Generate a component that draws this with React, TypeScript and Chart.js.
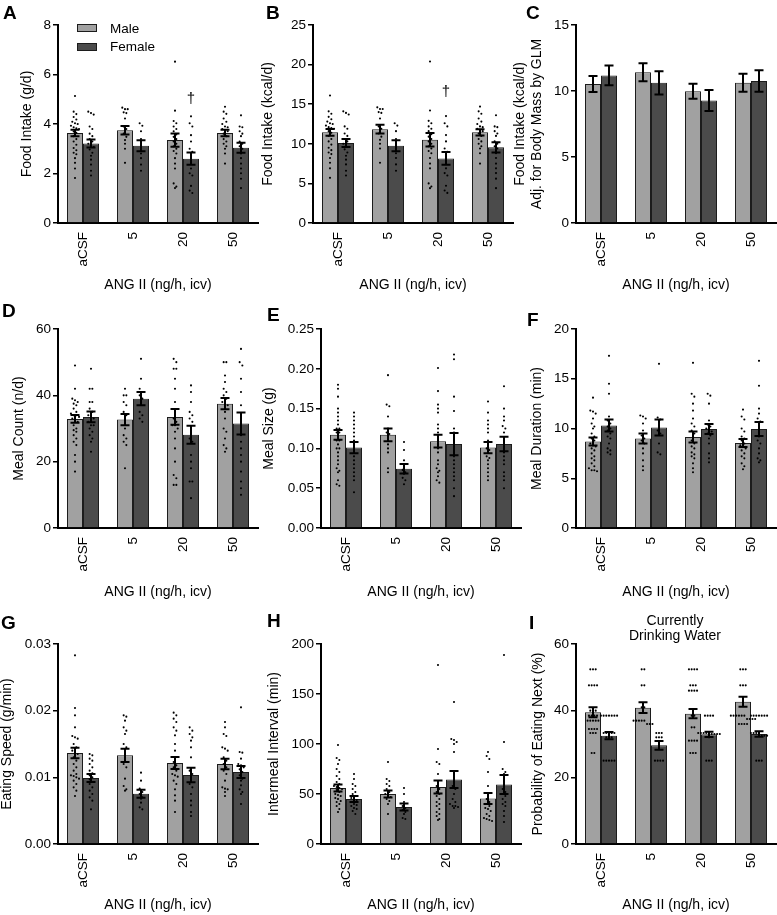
import React, { useEffect, useRef } from "react";
import { Chart, registerables } from "chart.js";

Chart.register(...registerables);

const FONT = "'Liberation Sans', Arial, Helvetica, sans-serif";
Chart.defaults.font.family = FONT;
Chart.defaults.color = "#000";

// ---------- shared ----------
const CATS = ["aCSF", "5", "20", "50"];
const SERIES = ["Male", "Female"];
const X_TITLE = "ANG II (ng/h, icv)";
const MALE_COLOR = "#a1a1a1";
const FEMALE_COLOR = "#4b4b4b";
const BAR_EDGE = "#1c1c1c";

// ---------- A: Food intake (g/d) ----------
const A_TICKS = [0, 2, 4, 6, 8];
const A_TICK_LABELS = ["0", "2", "4", "6", "8"];
const A_MALE = [3.64, 3.75, 3.35, 3.64];
const A_FEMALE = [3.21, 3.12, 2.6, 3.04];
const A_MALE_SEM = [0.13, 0.17, 0.27, 0.13];
const A_FEMALE_SEM = [0.16, 0.22, 0.25, 0.2];
const A_MALE_PTS = [
  [5.13, 4.5, 4.4, 4.28, 4.18, 4.09, 4.03, 4.0, 3.93, 3.87, 3.83, 3.8, 3.7, 3.64, 3.51, 3.39, 3.29, 3.16, 3.03, 2.94, 2.84, 2.78, 2.62, 2.43, 2.2, 1.82],
  [4.66, 4.6, 4.6, 4.47, 4.44, 4.22, 3.9, 3.8, 3.61, 3.48, 3.35, 3.2, 3.0, 2.43],
  [6.52, 4.54, 4.12, 4.03, 3.9, 3.8, 3.71, 3.58, 3.48, 3.39, 3.29, 3.2, 3.1, 3.0, 2.91, 2.81, 2.62, 2.4, 2.2, 1.6, 1.47, 1.41],
  [4.7, 4.5, 4.41, 4.22, 4.09, 4.0, 3.9, 3.87, 3.8, 3.74, 3.71, 3.61, 3.51, 3.39, 3.29, 3.2, 3.1, 3.0, 2.81, 2.4],
];
const A_FEMALE_PTS = [
  [4.5, 4.44, 4.38, 3.9, 3.8, 3.61, 3.51, 3.39, 3.29, 3.2, 3.16, 3.07, 2.97, 2.84, 2.72, 2.56, 2.36, 2.11, 1.92],
  [4.03, 3.93, 3.71, 3.39, 3.2, 3.0, 2.81, 2.62, 2.36, 2.11],
  [4.31, 4.03, 3.9, 3.55, 3.29, 3.0, 2.88, 2.72, 2.49, 2.2, 2.01, 1.92, 1.5, 1.31, 1.21],
  [4.35, 3.9, 3.87, 3.71, 3.61, 3.51, 3.29, 3.2, 3.1, 3.0, 2.81, 2.62, 2.4, 2.2, 2.01, 1.79, 1.41],
];
const A_DAGGER = { cat: 2, value: 5.0 };

// ---------- B: Food intake (kcal/d) ----------
const B_TICKS = [0, 5, 10, 15, 20, 25];
const B_TICK_LABELS = ["0", "5", "10", "15", "20", "25"];
const B_MALE = [11.45, 11.85, 10.5, 11.45];
const B_FEMALE = [10.1, 9.75, 8.15, 9.55];
const B_MALE_SEM = [0.42, 0.55, 0.85, 0.4];
const B_FEMALE_SEM = [0.5, 0.7, 0.8, 0.65];
const B_MALE_PTS = [
  [16.1, 14.1, 13.8, 13.4, 13.1, 12.8, 12.6, 12.5, 12.3, 12.1, 12.0, 11.9, 11.6, 11.4, 11.0, 10.6, 10.3, 9.9, 9.5, 9.2, 8.9, 8.7, 8.2, 7.6, 6.9, 5.7],
  [14.6, 14.4, 14.4, 14.0, 13.9, 13.2, 12.2, 11.9, 11.3, 10.9, 10.5, 10.0, 9.4, 7.6],
  [20.4, 14.2, 12.9, 12.6, 12.2, 11.9, 11.6, 11.2, 10.9, 10.6, 10.3, 10.0, 9.7, 9.4, 9.1, 8.8, 8.2, 7.5, 6.9, 5.0, 4.6, 4.4],
  [14.7, 14.1, 13.8, 13.2, 12.8, 12.5, 12.2, 12.1, 11.9, 11.7, 11.6, 11.3, 11.0, 10.6, 10.3, 10.0, 9.7, 9.4, 8.8, 7.5],
];
const B_FEMALE_PTS = [
  [14.1, 13.9, 13.7, 12.2, 11.9, 11.3, 11.0, 10.6, 10.3, 10.0, 9.9, 9.6, 9.3, 8.9, 8.5, 8.0, 7.4, 6.6, 6.0],
  [12.6, 12.3, 11.6, 10.6, 10.0, 9.4, 8.8, 8.2, 7.4, 6.6],
  [13.5, 12.6, 12.2, 11.1, 10.3, 9.4, 9.0, 8.5, 7.8, 6.9, 6.3, 6.0, 4.7, 4.1, 3.8],
  [13.6, 12.2, 12.1, 11.6, 11.3, 11.0, 10.3, 10.0, 9.7, 9.4, 8.8, 8.2, 7.5, 6.9, 6.3, 5.6, 4.4],
];
const B_DAGGER = { cat: 2, value: 16.5 };

// ---------- C: Adjusted food intake ----------
const C_TICKS = [0, 5, 10, 15];
const C_TICK_LABELS = ["0", "5", "10", "15"];
const C_MALE = [10.53, 11.42, 9.98, 10.62];
const C_FEMALE = [11.18, 10.62, 9.28, 10.76];
const C_MALE_SEM = [0.6, 0.68, 0.57, 0.68];
const C_FEMALE_SEM = [0.75, 0.88, 0.8, 0.82];

// ---------- D: Meal count ----------
const D_TICKS = [0, 20, 40, 60];
const D_TICK_LABELS = ["0", "20", "40", "60"];
const D_MALE = [32.9, 32.7, 33.5, 37.5];
const D_FEMALE = [33.5, 39.0, 28.1, 31.5];
const D_MALE_SEM = [1.2, 1.7, 2.4, 1.7];
const D_FEMALE_SEM = [1.6, 2.0, 2.7, 3.3];
const D_MALE_PTS = [
  [49, 42, 39, 38.5, 38, 37.5, 37, 36, 35, 34.5, 34, 34, 33.5, 33, 32.5, 32, 31, 30, 29.5, 29, 28, 27, 26, 25, 22, 20, 17],
  [42, 40, 40, 38, 37, 35, 34, 33, 30, 28, 27, 26, 25, 18],
  [51, 50, 48, 48, 45, 42, 38, 35, 33, 32, 31, 31, 30, 29, 27, 24, 20, 16, 15, 13, 13],
  [50, 50, 46, 44, 42, 41, 40, 39, 38, 38, 37, 35, 33, 30, 29, 27, 25, 24, 23],
];
const D_FEMALE_PTS = [
  [48, 42, 42, 38, 38, 36, 35, 34, 33, 33, 32, 31, 31, 30, 29, 28, 27, 26, 23],
  [51, 45, 42, 41, 40, 39, 35, 34, 33, 32],
  [43, 41, 38, 35, 34, 33, 32, 30, 27, 26, 22, 20, 18, 14, 14, 9],
  [54, 50, 49, 45, 41, 37, 33, 30, 28, 26, 24, 22, 20, 17, 14, 12, 10],
];

// ---------- E: Meal size ----------
const E_TICKS = [0, 0.05, 0.1, 0.15, 0.2, 0.25];
const E_TICK_LABELS = ["0.00", "0.05", "0.10", "0.15", "0.20", "0.25"];
const E_MALE = [0.117, 0.117, 0.109, 0.101];
const E_FEMALE = [0.101, 0.0745, 0.1055, 0.1055];
const E_MALE_SEM = [0.006, 0.008, 0.008, 0.007];
const E_FEMALE_SEM = [0.007, 0.006, 0.014, 0.009];
const E_MALE_PTS = [
  [0.18, 0.175, 0.165, 0.15, 0.145, 0.14, 0.135, 0.13, 0.125, 0.125, 0.12, 0.12, 0.115, 0.11, 0.11, 0.105, 0.1, 0.1, 0.095, 0.09, 0.085, 0.08, 0.075, 0.072, 0.07, 0.06, 0.055, 0.053],
  [0.192, 0.155, 0.153, 0.14, 0.125, 0.12, 0.118, 0.115, 0.11, 0.105, 0.1, 0.095, 0.075, 0.07],
  [0.201, 0.172, 0.155, 0.15, 0.145, 0.13, 0.125, 0.12, 0.115, 0.11, 0.105, 0.1, 0.095, 0.085, 0.08, 0.075, 0.072, 0.07, 0.065, 0.06, 0.057],
  [0.159, 0.145, 0.135, 0.13, 0.125, 0.12, 0.11, 0.105, 0.1, 0.098, 0.095, 0.09, 0.088, 0.085, 0.08, 0.075, 0.07, 0.065, 0.06],
];
const E_FEMALE_PTS = [
  [0.145, 0.14, 0.135, 0.13, 0.125, 0.12, 0.115, 0.11, 0.105, 0.1, 0.095, 0.09, 0.085, 0.08, 0.075, 0.07, 0.065, 0.06, 0.045],
  [0.108, 0.098, 0.085, 0.078, 0.073, 0.07, 0.068, 0.063, 0.06, 0.055],
  [0.218, 0.212, 0.165, 0.147, 0.125, 0.12, 0.11, 0.1, 0.09, 0.085, 0.08, 0.075, 0.07, 0.065, 0.06, 0.05, 0.04],
  [0.178, 0.15, 0.14, 0.135, 0.128, 0.125, 0.12, 0.11, 0.1, 0.095, 0.09, 0.085, 0.08, 0.07, 0.065, 0.06, 0.05],
];

// ---------- F: Meal duration ----------
const F_TICKS = [0, 5, 10, 15, 20];
const F_TICK_LABELS = ["0", "5", "10", "15", "20"];
const F_MALE = [8.7, 9.0, 9.15, 8.55];
const F_FEMALE = [10.3, 10.1, 9.95, 9.95];
const F_MALE_SEM = [0.4, 0.5, 0.55, 0.4];
const F_FEMALE_SEM = [0.6, 0.8, 0.5, 0.7];
const F_MALE_PTS = [
  [13.1, 11.8, 11.7, 11.5, 11.0, 10.5, 10.2, 10.0, 9.5, 9.2, 9.0, 8.8, 8.5, 8.3, 8.2, 8.0, 7.8, 7.5, 7.2, 7.0, 6.8, 6.5, 6.2, 6.0, 5.8, 5.8, 5.7],
  [11.3, 11.2, 11.0, 10.5, 9.8, 9.3, 9.0, 8.8, 8.5, 8.0, 7.5, 6.8, 6.2, 5.8],
  [16.6, 13.5, 13.2, 12.5, 11.8, 11.0, 10.5, 10.2, 9.8, 9.5, 9.2, 8.8, 8.5, 8.2, 8.0, 7.6, 7.4, 7.2, 7.0, 6.5, 6.0, 5.6],
  [11.9, 11.2, 10.9, 10.0, 9.7, 9.2, 9.0, 8.8, 8.5, 8.3, 8.2, 8.0, 7.8, 7.5, 7.2, 7.0, 6.5, 6.2, 5.9],
];
const F_FEMALE_PTS = [
  [17.3, 14.5, 13.5, 11.2, 10.8, 10.5, 10.2, 10.0, 9.8, 9.5, 9.2, 9.0, 8.5, 8.0, 7.8, 7.6, 7.4],
  [16.5, 11.1, 10.9, 10.6, 10.2, 9.8, 9.5, 8.5, 7.6, 7.4],
  [13.5, 13.3, 12.5, 10.8, 10.4, 10.2, 10.0, 9.8, 9.7, 9.5, 9.3, 9.0, 8.5, 7.5, 7.0, 6.6],
  [16.8, 14.3, 12.0, 11.5, 11.0, 10.7, 10.5, 10.0, 9.6, 9.2, 8.8, 8.5, 8.0, 7.5, 7.0, 6.8, 6.6],
];

// ---------- G: Eating speed ----------
const G_TICKS = [0, 0.01, 0.02, 0.03];
const G_TICK_LABELS = ["0.00", "0.01", "0.02", "0.03"];
const G_MALE = [0.01365, 0.0133, 0.01215, 0.012];
const G_FEMALE = [0.0099, 0.00755, 0.01035, 0.0108];
const G_MALE_SEM = [0.0008, 0.001, 0.0009, 0.0008];
const G_FEMALE_SEM = [0.0006, 0.0006, 0.0011, 0.0009];
const G_MALE_PTS = [
  [0.0283, 0.0204, 0.0193, 0.0175, 0.0162, 0.016, 0.0158, 0.015, 0.0145, 0.014, 0.0138, 0.0135, 0.013, 0.0125, 0.012, 0.0115, 0.011, 0.0105, 0.0103, 0.0102, 0.01, 0.0098, 0.0095, 0.009, 0.0085, 0.008, 0.0072],
  [0.0193, 0.0191, 0.0185, 0.0175, 0.017, 0.0165, 0.015, 0.0145, 0.014, 0.012, 0.0115, 0.0098, 0.0087, 0.0082, 0.008],
  [0.0197, 0.0193, 0.0188, 0.0183, 0.0175, 0.017, 0.0163, 0.015, 0.014, 0.013, 0.0123, 0.0118, 0.0115, 0.011, 0.0105, 0.0103, 0.0101, 0.0095, 0.009, 0.0082, 0.0073, 0.0065, 0.0048],
  [0.0183, 0.0175, 0.0165, 0.0162, 0.0145, 0.0143, 0.014, 0.013, 0.0125, 0.012, 0.0115, 0.011, 0.0105, 0.0095, 0.0085, 0.0083, 0.0082, 0.0078, 0.0072],
];
const G_FEMALE_PTS = [
  [0.0135, 0.0133, 0.0128, 0.0125, 0.012, 0.0115, 0.011, 0.0106, 0.0103, 0.01, 0.0097, 0.0093, 0.009, 0.0085, 0.008, 0.0075, 0.007, 0.0065, 0.0052],
  [0.0107, 0.0095, 0.0083, 0.0078, 0.0075, 0.007, 0.0068, 0.0062, 0.0055, 0.0052],
  [0.0175, 0.017, 0.0165, 0.016, 0.0155, 0.0145, 0.013, 0.011, 0.0105, 0.01, 0.009, 0.0085, 0.0075, 0.0065, 0.0058, 0.0048, 0.0042],
  [0.0205, 0.0138, 0.0137, 0.0128, 0.012, 0.0118, 0.0115, 0.0112, 0.0108, 0.0103, 0.0098, 0.0095, 0.0088, 0.0082, 0.0078, 0.0075, 0.006],
];

// ---------- H: Intermeal interval ----------
const H_TICKS = [0, 50, 100, 150, 200];
const H_TICK_LABELS = ["0", "50", "100", "150", "200"];
const H_MALE = [56, 50, 57, 45.5];
const H_FEMALE = [45, 37, 64.5, 59.5];
const H_MALE_SEM = [3.5, 3.5, 6.5, 5.5];
const H_FEMALE_SEM = [3, 3.5, 8.5, 9.5];
const H_MALE_PTS = [
  [99, 86, 84, 80, 75, 72, 68, 65, 62, 60, 58, 57, 56, 55, 54, 52, 50, 49, 48, 46, 45, 43, 42, 40, 38, 35, 32],
  [82, 65, 63, 60, 58, 55, 52, 50, 48, 47, 45, 43, 40, 30],
  [179, 95, 82, 80, 70, 62, 58, 55, 52, 50, 48, 45, 42, 40, 38, 35, 32, 30, 28, 25, 24],
  [92, 88, 85, 72, 58, 50, 45, 42, 40, 38, 36, 35, 33, 30, 28, 26, 25, 24, 23],
];
const H_FEMALE_PTS = [
  [70, 65, 60, 58, 55, 52, 50, 48, 46, 45, 44, 42, 40, 39, 38, 36, 35, 33, 30],
  [56, 50, 42, 38, 36, 34, 32, 30, 26, 25],
  [142, 105, 104, 102, 100, 92, 72, 58, 55, 50, 45, 42, 40, 38, 38, 37, 36],
  [189, 102, 75, 72, 70, 62, 55, 52, 50, 48, 45, 42, 40, 38, 33, 28, 22],
];

// ---------- I: Probability of eating next ----------
const I_TICKS = [0, 20, 40, 60];
const I_TICK_LABELS = ["0", "20", "40", "60"];
const I_MALE = [39.5, 40.9, 39.1, 42.7];
const I_FEMALE = [32.5, 29.6, 32.9, 33.0];
const I_MALE_SEM = [1.5, 1.6, 1.4, 1.5];
const I_FEMALE_SEM = [1.1, 1.3, 0.8, 0.8];
const I_MALE_PTS = [
  [52.4, 52.4, 52.4, 47.6, 47.6, 47.6, 47.6, 40, 40, 40, 38.5, 38.5, 38.5, 38.5, 37, 37, 37, 37, 37, 34.5, 34.5, 34.5, 34.5, 33.3, 33.3, 33.3, 27.3, 27.3],
  [52.4, 52.4, 47.6, 47.6, 41, 41, 37, 37, 37, 37, 37, 36, 36, 36],
  [52.4, 52.4, 52.4, 52.4, 47.6, 47.6, 47.6, 46, 46, 46, 46, 38.5, 38.5, 35, 35, 31, 31, 31, 31, 27.3, 27.3, 27.3],
  [52.4, 52.4, 52.4, 47.6, 47.6, 47.6, 38.5, 38.5, 38.5, 38.5, 38.5, 38.5, 37.5, 37.5, 37.5, 37.5, 36, 36, 36, 36],
];
const I_FEMALE_PTS = [
  [38.5, 38.5, 38.5, 38.5, 38.5, 38.5, 38.5, 33.3, 33.3, 33.3, 33.3, 33.3, 32, 32, 32, 25, 25, 25, 25, 25],
  [33.3, 33.3, 33.3, 32, 32, 32, 25, 25, 25, 25],
  [38.5, 38.5, 38.5, 38.5, 33.3, 33.3, 33.3, 33.3, 33.3, 33, 33, 33, 33, 32, 25, 25, 25],
  [38.5, 38.5, 38.5, 38.5, 38.5, 38.5, 38.5, 33.3, 33.3, 33.3, 33.3, 32.5, 32.5, 32.5, 25, 25, 25],
];

// ---------- layout ----------
const CAT_PX = 50;
const BAR_HALF = 0.16;
const DOT_STEP = 2.7; // horizontal spacing of dots in a row (px)
const ROW_BAND = 3.6; // vertical band (px) whose dots share a row
const DOT_RADIUS = 1.05;

type Geo = { left: number; top: number; w: number; h: number; axisW: number; padTop: number; xAxisH: number; yTitlePad: number; xTitlePad: number };
type PanelDef = {
  id: string;
  yTitle: string | string[];
  ticks: number[];
  tickLabels: string[];
  male: number[];
  female: number[];
  maleSem: number[];
  femaleSem: number[];
  malePts?: number[][];
  femalePts?: number[][];
  dagger?: { cat: number; value: number };
  geo: Geo;
};

const ROW1 = { top: 0, h: 300, padTop: 25, xAxisH: 77, xTitlePad: 6.6 };
const ROW2 = { top: 300, h: 305, padTop: 29, xAxisH: 77, xTitlePad: 4.6 };
const ROW3 = { top: 610, h: 305, padTop: 34, xAxisH: 71, xTitlePad: 1.6 };
const COL1 = { left: -10, w: 278, axisW: 68 };
const COL2B = { left: 255, w: 268, axisW: 58 };
const COL2 = { left: 255, w: 276, axisW: 66 };
const COL3 = { left: 505, w: 281, axisW: 71 };

const PANELS: PanelDef[] = [
  { id: "A", yTitle: "Food Intake (g/d)", ticks: A_TICKS, tickLabels: A_TICK_LABELS, male: A_MALE, female: A_FEMALE, maleSem: A_MALE_SEM, femaleSem: A_FEMALE_SEM, malePts: A_MALE_PTS, femalePts: A_FEMALE_PTS, dagger: A_DAGGER, geo: { ...ROW1, ...COL1, yTitlePad: 28.6 } },
  { id: "B", yTitle: "Food Intake (kcal/d)", ticks: B_TICKS, tickLabels: B_TICK_LABELS, male: B_MALE, female: B_FEMALE, maleSem: B_MALE_SEM, femaleSem: B_FEMALE_SEM, malePts: B_MALE_PTS, femalePts: B_FEMALE_PTS, dagger: B_DAGGER, geo: { ...ROW1, ...COL2B, yTitlePad: 4.6 } },
  { id: "C", yTitle: ["Food Intake (kcal/d)", "Adj. for Body Mass by GLM"], ticks: C_TICKS, tickLabels: C_TICK_LABELS, male: C_MALE, female: C_FEMALE, maleSem: C_MALE_SEM, femaleSem: C_FEMALE_SEM, geo: { ...ROW1, ...COL3, yTitlePad: 6.6 } },
  { id: "D", yTitle: "Meal Count (n/d)", ticks: D_TICKS, tickLabels: D_TICK_LABELS, male: D_MALE, female: D_FEMALE, maleSem: D_MALE_SEM, femaleSem: D_FEMALE_SEM, malePts: D_MALE_PTS, femalePts: D_FEMALE_PTS, geo: { ...ROW2, ...COL1, yTitlePad: 20.6 } },
  { id: "E", yTitle: "Meal Size (g)", ticks: E_TICKS, tickLabels: E_TICK_LABELS, male: E_MALE, female: E_FEMALE, maleSem: E_MALE_SEM, femaleSem: E_FEMALE_SEM, malePts: E_MALE_PTS, femalePts: E_FEMALE_PTS, geo: { ...ROW2, ...COL2, yTitlePad: 5.6 } },
  { id: "F", yTitle: "Meal Duration (min)", ticks: F_TICKS, tickLabels: F_TICK_LABELS, male: F_MALE, female: F_FEMALE, maleSem: F_MALE_SEM, femaleSem: F_FEMALE_SEM, malePts: F_MALE_PTS, femalePts: F_FEMALE_PTS, geo: { ...ROW2, ...COL3, yTitlePad: 23.6 } },
  { id: "G", yTitle: "Eating Speed (g/min)", ticks: G_TICKS, tickLabels: G_TICK_LABELS, male: G_MALE, female: G_FEMALE, maleSem: G_MALE_SEM, femaleSem: G_FEMALE_SEM, malePts: G_MALE_PTS, femalePts: G_FEMALE_PTS, geo: { ...ROW3, ...COL1, yTitlePad: 8.6 } },
  { id: "H", yTitle: "Intermeal Interval (min)", ticks: H_TICKS, tickLabels: H_TICK_LABELS, male: H_MALE, female: H_FEMALE, maleSem: H_MALE_SEM, femaleSem: H_FEMALE_SEM, malePts: H_MALE_PTS, femalePts: H_FEMALE_PTS, geo: { ...ROW3, ...COL2, yTitlePad: 10.6 } },
  { id: "I", yTitle: "Probability of Eating Next (%)", ticks: I_TICKS, tickLabels: I_TICK_LABELS, male: I_MALE, female: I_FEMALE, maleSem: I_MALE_SEM, femaleSem: I_FEMALE_SEM, malePts: I_MALE_PTS, femalePts: I_FEMALE_PTS, geo: { ...ROW3, ...COL3, yTitlePad: 24.6 } },
];

// scatter spread: dots whose pixel heights fall in the same band form a centred row
function spread(values: number[], pxPerUnit: number): number[] {
  const order = values.map((_, i) => i).sort((a, b) => values[b] - values[a]);
  const out = new Array(values.length).fill(0);
  let row: number[] = [];
  let rowStart = Infinity;
  const flush = () => {
    const n = row.length;
    row.forEach((idx, j) => {
      out[idx] = (j - (n - 1) / 2) * DOT_STEP;
    });
    row = [];
  };
  for (const i of order) {
    const y = values[i] * pxPerUnit;
    if (row.length && rowStart - y >= ROW_BAND) flush();
    if (!row.length) rowStart = y;
    row.push(i);
  }
  flush();
  return out;
}

// points in the category scale's own index units (fractional index = position within category)
function buildPoints(groups: number[][], sex: number, yMax: number, plotH: number) {
  const ppu = plotH / yMax;
  const pts: { x: number; y: number }[] = [];
  groups.forEach((g, ci) => {
    const offs = spread(g, ppu);
    g.forEach((v, k) => pts.push({ x: ci + (sex === 0 ? -BAR_HALF : BAR_HALF) + offs[k] / CAT_PX, y: v }));
  });
  pts.sort((a, b) => a.x - b.x);
  return pts;
}

function ChartPanel({ p }: { p: PanelDef }) {
  const ref = useRef<HTMLCanvasElement | null>(null);
  useEffect(() => {
    const canvas = ref.current;
    if (!canvas) return;
    const g = p.geo;
    const yMax = p.ticks[p.ticks.length - 1];
    const plotH = g.h - g.padTop - g.xAxisH;
    const datasets: any[] = [
      { type: "bar", label: SERIES[0], data: p.male, backgroundColor: MALE_COLOR, borderColor: BAR_EDGE, borderWidth: 1, barPercentage: 1, categoryPercentage: 0.64, order: 2 },
      { type: "bar", label: SERIES[1], data: p.female, backgroundColor: FEMALE_COLOR, borderColor: BAR_EDGE, borderWidth: 1, barPercentage: 1, categoryPercentage: 0.64, order: 2 },
    ];
    if (p.malePts && p.femalePts) {
      const common = { type: "scatter", parsing: false, normalized: true, xAxisID: "x", yAxisID: "y", pointRadius: DOT_RADIUS, pointBackgroundColor: "#000", pointBorderWidth: 0, showLine: false, order: 0 };
      datasets.push({ ...common, label: SERIES[0] + " individual", data: buildPoints(p.malePts, 0, yMax, plotH) });
      datasets.push({ ...common, label: SERIES[1] + " individual", data: buildPoints(p.femalePts, 1, yMax, plotH) });
    }
    const sems = [p.maleSem, p.femaleSem];
    const errPlugin = {
      id: "errbars",
      afterDatasetsDraw(chart: any) {
        const ctx = chart.ctx;
        const ys = chart.scales.y;
        ctx.save();
        ctx.strokeStyle = "#000";
        ctx.lineWidth = 2;
        [0, 1].forEach((di) => {
          const meta = chart.getDatasetMeta(di);
          const vals = chart.data.datasets[di].data as number[];
          meta.data.forEach((el: any, i: number) => {
            const m = vals[i];
            const s = sems[di][i];
            const x = el.x;
            const y1 = ys.getPixelForValue(m + s);
            const y2 = ys.getPixelForValue(m - s);
            ctx.beginPath();
            ctx.moveTo(x, y1);
            ctx.lineTo(x, y2);
            ctx.moveTo(x - 4.5, y1);
            ctx.lineTo(x + 4.5, y1);
            ctx.moveTo(x - 4.5, y2);
            ctx.lineTo(x + 4.5, y2);
            ctx.stroke();
          });
        });
        if (p.dagger) {
          const el: any = chart.getDatasetMeta(1).data[p.dagger.cat];
          ctx.fillStyle = "#000";
          ctx.font = `15px ${FONT}`;
          ctx.textAlign = "center";
          ctx.textBaseline = "middle";
          ctx.fillText("\u2020", el.x, ys.getPixelForValue(p.dagger.value));
        }
        ctx.restore();
      },
    };
    const chart = new Chart(canvas, {
      type: "bar",
      data: { labels: CATS, datasets },
      options: {
        responsive: false,
        animation: false,
        devicePixelRatio: 1,
        events: [],
        layout: { padding: { top: g.padTop, right: 10, left: 0, bottom: 0 } },
        plugins: { legend: { display: false }, tooltip: { enabled: false }, title: { display: false } },
        scales: {
          x: {
            type: "category",
            offset: true,
            grid: { display: false, drawTicks: false },
            border: { display: true, color: "#000", width: 2 },
            ticks: { minRotation: 90, maxRotation: 90, autoSkip: false, padding: 9, font: { size: 13.5 }, color: "#000" },
            title: { display: true, text: X_TITLE, font: { size: 14 }, color: "#000", padding: { top: 0, bottom: g.xTitlePad } },
            afterFit: (s: any) => {
              s.height = g.xAxisH;
            },
          },
          y: {
            type: "linear",
            min: 0,
            max: yMax,
            afterBuildTicks: (s: any) => {
              s.ticks = p.ticks.map((v) => ({ value: v }));
            },
            afterFit: (s: any) => {
              s.width = g.axisW;
            },
            ticks: { callback: (_v: any, i: number) => p.tickLabels[i], font: { size: 13.5 }, color: "#000", padding: 2, autoSkip: false },
            grid: { display: true, drawOnChartArea: false, drawTicks: true, tickLength: 5, color: "#000", lineWidth: 1.5 },
            border: { display: true, color: "#000", width: 2 },
            title: { display: true, text: p.yTitle, font: { size: 14 }, color: "#000", padding: { top: g.yTitlePad, bottom: 0 } },
          },
        },
      } as any,
      plugins: [errPlugin],
    } as any);
    return () => chart.destroy();
  }, [p]);
  const g = p.geo;
  return <canvas ref={ref} width={g.w} height={g.h} style={{ position: "absolute", left: g.left, top: g.top, width: g.w, height: g.h }} />;
}

const LETTERS = [
  { t: "A", x: 3, y: 2.5 },
  { t: "B", x: 266, y: 2.5 },
  { t: "C", x: 526, y: 2.5 },
  { t: "D", x: 2, y: 300.5 },
  { t: "E", x: 267, y: 304.5 },
  { t: "F", x: 527, y: 309.5 },
  { t: "G", x: 1, y: 612.5 },
  { t: "H", x: 267, y: 610.5 },
  { t: "I", x: 529, y: 612.5 },
];

export default function App() {
  return (
    <div style={{ position: "absolute", left: 0, top: 0, width: 777, height: 915, overflow: "hidden", background: "#fff", fontFamily: FONT, color: "#000" }}>
      {PANELS.map((p) => (
        <ChartPanel key={p.id} p={p} />
      ))}
      {LETTERS.map((l) => (
        <div key={l.t} style={{ position: "absolute", left: l.x, top: l.y, fontSize: 19, lineHeight: "19px", fontWeight: 700 }}>
          {l.t}
        </div>
      ))}
      {/* legend for panel A */}
      <div style={{ position: "absolute", left: 77, top: 24, width: 20, height: 8, boxSizing: "border-box", background: MALE_COLOR, border: `1px solid ${BAR_EDGE}` }} />
      <div style={{ position: "absolute", left: 110, top: 21, fontSize: 13.5, lineHeight: "16px" }}>{SERIES[0]}</div>
      <div style={{ position: "absolute", left: 77, top: 43, width: 20, height: 8, boxSizing: "border-box", background: FEMALE_COLOR, border: `1px solid ${BAR_EDGE}` }} />
      <div style={{ position: "absolute", left: 110, top: 39, fontSize: 13.5, lineHeight: "16px" }}>{SERIES[1]}</div>
      {/* panel I heading */}
      <div style={{ position: "absolute", left: 575, top: 612.5, width: 200, textAlign: "center", fontSize: 14, lineHeight: "15px" }}>
        Currently
        <br />
        Drinking Water
      </div>
    </div>
  );
}
